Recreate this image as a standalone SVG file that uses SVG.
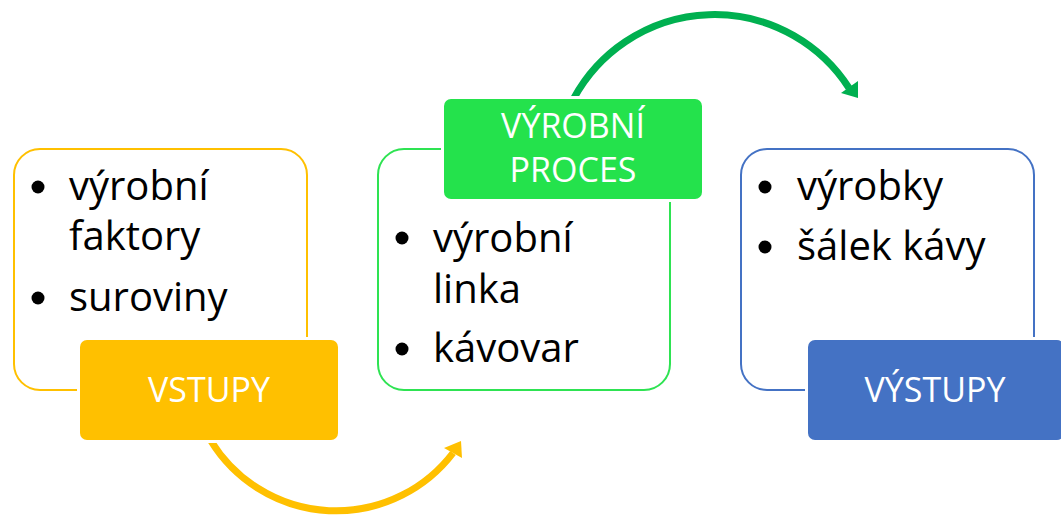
<svg xmlns="http://www.w3.org/2000/svg" width="1061" height="516" viewBox="0 0 1061 516">
<style>
.box{fill:#FFFFFF;stroke-width:2}
.lab{stroke:#FFFFFF;stroke-width:6;paint-order:stroke}
.item{font-family:"Open Sans","Liberation Sans",sans-serif;font-size:40px;fill:#000000}
.lt{font-family:"Open Sans","Liberation Sans",sans-serif;font-size:34px;fill:#FFFFFF;text-anchor:middle}
.arc{fill:none;stroke-width:7}
</style>
<rect width="1061" height="516" fill="#FFFFFF"/>
<g id="connectors">
<path class="arc" stroke="#FFC000" d="M211,441 A147,147 0 0 0 453,453"/>
<polygon fill="#FFC000" points="444,448 462,458 461,441"/>
<path class="arc" stroke="#00B050" d="M574,98 A160,160 0 0 1 849,88"/>
<polygon fill="#00B050" points="841,93 858,81 858,98"/>
</g>
<g id="vstupy">
<rect class="box" stroke="#FFC000" x="14" y="149" width="293" height="241" rx="26"/>
<circle cx="38" cy="187" r="6.5"/>
<text class="item" x="69" y="200">výrobní</text>
<text class="item" x="69" y="250">faktory</text>
<circle cx="38" cy="298" r="6.5"/>
<text class="item" x="69" y="311">suroviny</text>
<rect class="lab" fill="#FFC000" x="80" y="340" width="258" height="100" rx="7"/>
<text class="lt" x="209" y="402">VSTUPY</text>
</g>
<g id="vyrobni-proces">
<rect class="box" stroke="#2EE352" x="378" y="149" width="292" height="241" rx="26"/>
<circle cx="402" cy="238" r="6.5"/>
<text class="item" x="433" y="252">výrobní</text>
<text class="item" x="433" y="303">linka</text>
<circle cx="402" cy="349" r="6.5"/>
<text class="item" x="433" y="362">kávovar</text>
<rect class="lab" fill="#24E24C" x="444" y="99" width="258" height="100" rx="7"/>
<text class="lt" x="573" y="138">VÝROBNÍ</text>
<text class="lt" x="573" y="182">PROCES</text>
</g>
<g id="vystupy">
<rect class="box" stroke="#4472C4" x="741" y="149" width="293" height="241" rx="26"/>
<circle cx="765" cy="187" r="6.5"/>
<text class="item" x="797" y="200">výrobky</text>
<circle cx="765" cy="247" r="6.5"/>
<text class="item" x="797" y="260">šálek kávy</text>
<rect class="lab" fill="#4472C4" x="808" y="340" width="256" height="100" rx="7"/>
<text class="lt" x="935" y="402">VÝSTUPY</text>
</g>
</svg>
